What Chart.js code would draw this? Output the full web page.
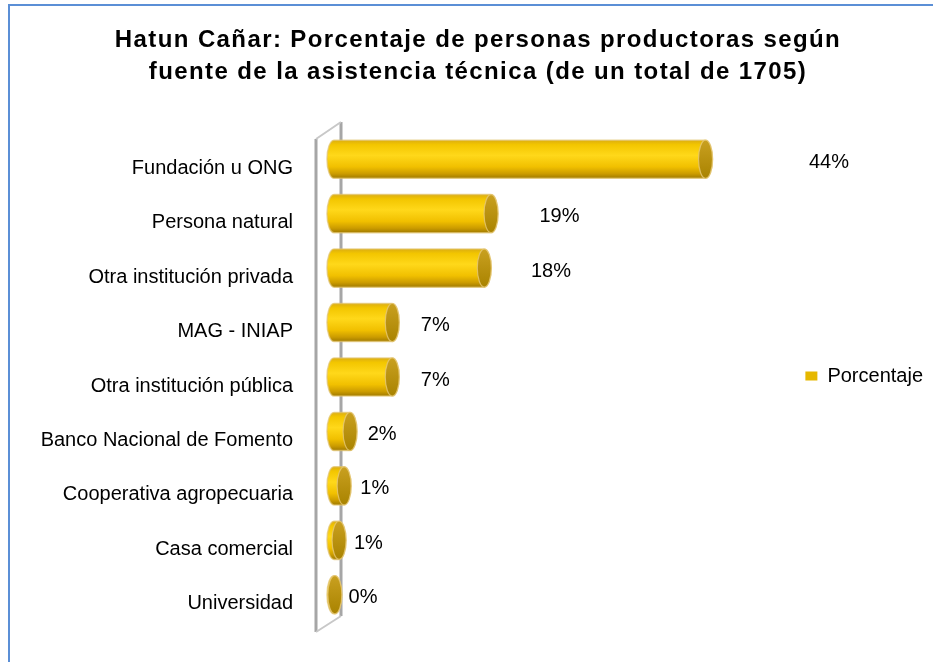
<!DOCTYPE html>
<html><head><meta charset="utf-8">
<script src="https://cdn.jsdelivr.net/npm/chart.js@4"></script>
<style>
html,body{margin:0;padding:0;background:#fff;overflow:hidden}
#wrap{position:absolute;left:0;top:0;width:933px;height:662px;overflow:hidden}
#frame{position:absolute;left:8px;top:4px;width:1000px;height:1000px;border-left:2px solid #5b8fd6;border-top:2px solid #5b8fd6;box-sizing:border-box}
canvas{position:absolute;left:0;top:0}
</style></head><body>
<div id="wrap"><div id="frame"></div><canvas id="c" width="933" height="662"></canvas></div>
<script>
const titleLines = ['Hatun Cañar: Porcentaje de personas productoras según', 'fuente de la asistencia técnica (de un total de 1705)'];
const categories = ['Fundación u ONG', 'Persona natural', 'Otra institución privada', 'MAG - INIAP', 'Otra institución pública', 'Banco Nacional de Fomento', 'Cooperativa agropecuaria', 'Casa comercial', 'Universidad'];
const seriesName = 'Porcentaje';
const values = [44.0, 18.6, 17.8, 6.9, 6.9, 1.9, 1.2, 0.6, 0.1];

const FONT = "'Liberation Sans', Arial, sans-serif";

function drawCylinder(ctx, xs, xe, yc, h) {
  const rx = 7, ry = h / 2, top = yc - ry, bot = yc + ry;
  const xl = xs + rx, xr = xe + rx;
  const g = ctx.createLinearGradient(0, top, 0, bot);
  g.addColorStop(0, '#dcae10');
  g.addColorStop(0.12, '#f3c600');
  g.addColorStop(0.4, '#ffd81a');
  g.addColorStop(0.7, '#f1c000');
  g.addColorStop(0.88, '#cc9c00');
  g.addColorStop(1, '#a07a00');
  ctx.beginPath();
  ctx.moveTo(xl, top);
  ctx.lineTo(xr, top);
  ctx.ellipse(xr, yc, rx, ry, 0, -Math.PI / 2, Math.PI / 2);
  ctx.lineTo(xl, bot);
  ctx.ellipse(xl, yc, rx, ry, 0, Math.PI / 2, 3 * Math.PI / 2);
  ctx.closePath();
  ctx.fillStyle = g;
  ctx.fill();
  ctx.strokeStyle = 'rgba(225,195,110,0.7)';
  ctx.lineWidth = 1.5;
  ctx.stroke();
  ctx.beginPath();
  ctx.ellipse(xr, yc, rx, ry, 0, 0, 2 * Math.PI);
  const g2 = ctx.createLinearGradient(0, top, 0, bot);
  g2.addColorStop(0, '#c9a020');
  g2.addColorStop(1, '#a98300');
  ctx.fillStyle = g2;
  ctx.fill();
  ctx.strokeStyle = 'rgba(230,200,120,0.8)';
  ctx.lineWidth = 1.2;
  ctx.stroke();
}

const cylinderPlugin = {
  id: 'cyl',
  afterLayout(chart) {
    if (chart.legend) { chart.legend.top -= 10; chart.legend.bottom -= 10; }
  },
  beforeDatasetsDraw(chart) {
    const ctx = chart.ctx, a = chart.chartArea;
    const base = chart.scales.x.getPixelForValue(0);
    const fx = base - 11, bx = base + 14;
    ctx.save();
    ctx.strokeStyle = '#a6a6a6';
    ctx.lineWidth = 3;
    ctx.beginPath();
    ctx.moveTo(bx, a.top - 19); ctx.lineTo(bx, a.bottom - 15);
    ctx.moveTo(fx, a.top - 2); ctx.lineTo(fx, a.bottom + 1);
    ctx.stroke();
    ctx.strokeStyle = '#c8c8c8';
    ctx.lineWidth = 2;
    ctx.beginPath();
    ctx.moveTo(fx, a.top - 2); ctx.lineTo(bx, a.top - 19);
    ctx.moveTo(fx, a.bottom + 1); ctx.lineTo(bx, a.bottom - 15);
    ctx.stroke();
    ctx.restore();
  },
  beforeDatasetDraw() { return false; },
  afterDatasetsDraw(chart) {
    const ctx = chart.ctx;
    const meta = chart.getDatasetMeta(0);
    const base = chart.scales.x.getPixelForValue(0);
    ctx.save();
    meta.data.forEach((el, i) => {
      const p = el.getProps(['x', 'y', 'base', 'height'], true);
      drawCylinder(ctx, p.base, p.x, p.y - 9, p.height);
      const v = chart.data.datasets[0].data[i];
      ctx.fillStyle = '#000';
      ctx.font = '20px ' + FONT;
      ctx.textAlign = 'center';
      ctx.textBaseline = 'middle';
      ctx.fillText(Math.round(v) + '%', base + 35 + (p.x - base) * 1.257, p.y - 6);
    });
    ctx.restore();
  }
};

const chart = new Chart(document.getElementById('c'), {
  type: 'bar',
  data: {
    labels: categories,
    datasets: [{
      label: seriesName,
      data: values,
      backgroundColor: '#e6b800',
      borderWidth: 0,
      barPercentage: 0.7,
      categoryPercentage: 1
    }]
  },
  options: {
    indexAxis: 'y',
    responsive: false,
    animation: false,
    events: [],
    layout: { padding: { left: 23, right: 0, top: 24, bottom: 31 } },
    scales: {
      x: { display: false, min: 0, max: 56.3 },
      y: {
        grid: { display: false, drawTicks: false },
        border: { display: false },
        ticks: { color: '#000', font: { family: FONT, size: 20 }, padding: 34 },
        afterFit(s) { s.width = 304; s.paddingTop = 0; s.paddingBottom = 0; }
      }
    },
    plugins: {
      title: {
        display: true,
        text: titleLines,
        color: '#000',
        font: { family: FONT, size: 24, weight: 'bold', lineHeight: 1.333 },
        padding: { top: 0, bottom: 53 }
      },
      legend: {
        position: 'right',
        fullSize: false,
        labels: { color: '#000', font: { family: FONT, size: 20 }, boxWidth: 12, boxHeight: 9, padding: 3 }
      },
      tooltip: { enabled: false }
    }
  },
  plugins: [cylinderPlugin]
});

// widen title tracking to match the reference's letter spacing
const tb = chart.titleBlock;
const origDraw = tb.draw.bind(tb);
tb.draw = function () {
  const c = this.ctx;
  c.save();
  c.letterSpacing = '1.4px';
  origDraw();
  c.restore();
};
chart.draw();
</script>
</body></html>
